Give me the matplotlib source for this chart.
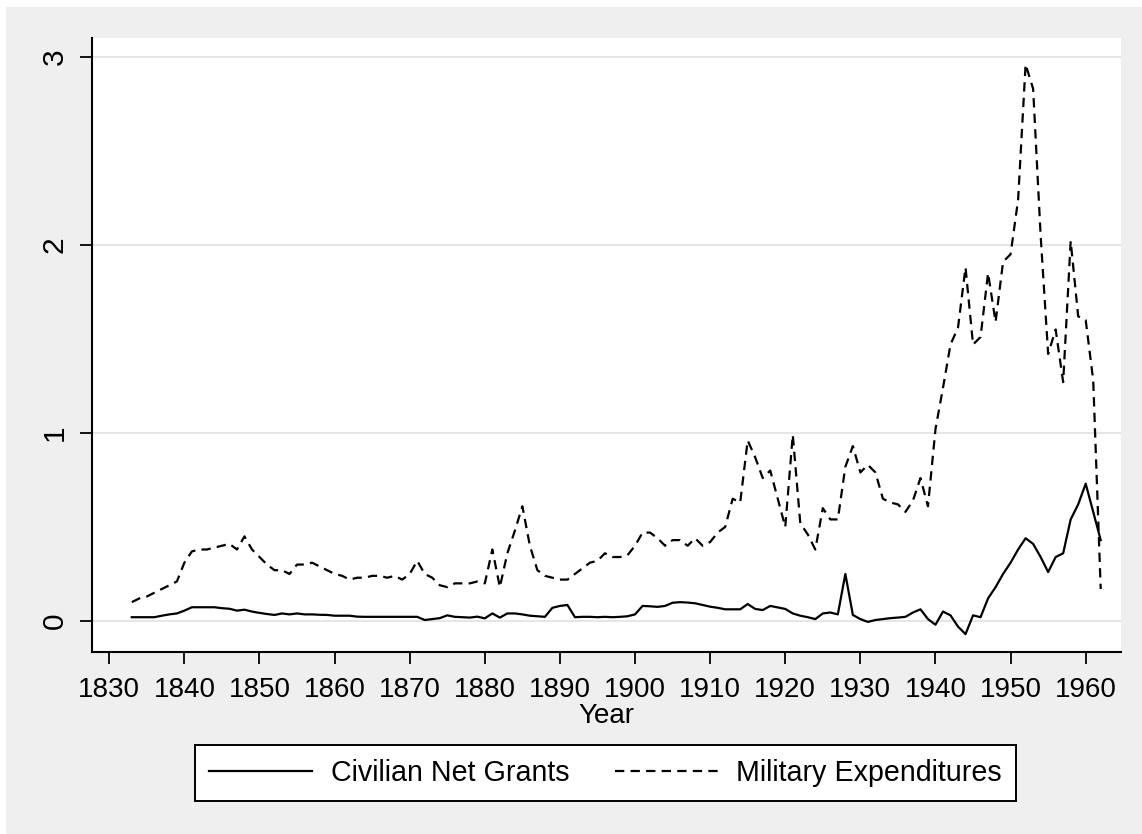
import numpy as np
import matplotlib
matplotlib.use("Agg")
import matplotlib.pyplot as plt
from matplotlib.patches import Rectangle

plt.rcParams['font.family'] = ['Liberation Sans', 'DejaVu Sans']

years = np.arange(1833, 1963)

# military expenditures (dashed), one value a year 1833-1962
military = [
    0.10, 0.12, 0.13, 0.15, 0.17, 0.19, 0.21,                    # 1833-1839
    0.31, 0.37, 0.38, 0.38, 0.39, 0.40, 0.41, 0.38, 0.45, 0.38,  # 1840s
    0.34, 0.30, 0.27, 0.27, 0.25, 0.30, 0.30, 0.31, 0.29, 0.27,  # 1850s
    0.25, 0.24, 0.22, 0.23, 0.23, 0.24, 0.24, 0.23, 0.24, 0.22,  # 1860s
    0.25, 0.32, 0.25, 0.23, 0.19, 0.18, 0.20, 0.20, 0.20, 0.21,  # 1870s
    0.20, 0.38, 0.18, 0.36, 0.48, 0.61, 0.40, 0.27, 0.24, 0.23,  # 1880s
    0.22, 0.22, 0.25, 0.28, 0.31, 0.32, 0.36, 0.34, 0.34, 0.35,  # 1890s
    0.40, 0.47, 0.47, 0.44, 0.40, 0.43, 0.43, 0.40, 0.44, 0.40,  # 1900s
    0.42, 0.47, 0.50, 0.65, 0.63, 0.96, 0.87, 0.76, 0.80, 0.65,  # 1910s
    0.50, 0.99, 0.52, 0.46, 0.38, 0.60, 0.54, 0.54, 0.82, 0.93,  # 1920s
    0.79, 0.83, 0.79, 0.65, 0.63, 0.62, 0.58, 0.64, 0.76, 0.61,  # 1930s
    1.02, 1.24, 1.47, 1.56, 1.88, 1.47, 1.51, 1.85, 1.59, 1.91,  # 1940s
    1.95, 2.24, 2.96, 2.83, 2.05, 1.42, 1.55, 1.27, 2.02, 1.62,  # 1950s
    1.60, 1.28, 0.17,                                            # 1960-1962
]

# civilian net grants (solid)
civilian = [
    0.020, 0.020, 0.020, 0.020, 0.028, 0.035, 0.040,                     # 1833-1839
    0.055, 0.073, 0.073, 0.073, 0.073, 0.068, 0.065, 0.055, 0.060, 0.050,  # 1840s
    0.043, 0.037, 0.032, 0.040, 0.035, 0.040, 0.035, 0.035, 0.033, 0.032,  # 1850s
    0.028, 0.028, 0.028, 0.023, 0.022, 0.022, 0.022, 0.022, 0.022, 0.022,  # 1860s
    0.022, 0.022, 0.005, 0.010, 0.015, 0.030, 0.022, 0.020, 0.018, 0.023,  # 1870s
    0.014, 0.040, 0.018, 0.040, 0.040, 0.035, 0.028, 0.025, 0.022, 0.070,  # 1880s
    0.080, 0.085, 0.020, 0.022, 0.022, 0.020, 0.022, 0.020, 0.022, 0.025,  # 1890s
    0.035, 0.080, 0.078, 0.075, 0.080, 0.097, 0.100, 0.098, 0.094, 0.085,  # 1900s
    0.076, 0.070, 0.062, 0.062, 0.062, 0.090, 0.064, 0.058, 0.080, 0.072,  # 1910s
    0.064, 0.040, 0.028, 0.020, 0.010, 0.040, 0.045, 0.035, 0.250, 0.032,  # 1920s
    0.010, -0.005, 0.005, 0.010, 0.015, 0.018, 0.022, 0.045, 0.062, 0.010,  # 1930s
    -0.020, 0.050, 0.030, -0.030, -0.070, 0.030, 0.020, 0.120, 0.180, 0.250,  # 1940s
    0.310, 0.380, 0.440, 0.410, 0.340, 0.260, 0.340, 0.360, 0.540, 0.620,  # 1950s
    0.730, 0.580, 0.430,                                                   # 1960-1962
]

xticks = np.arange(1830, 1961, 10)
yticks = [0, 1, 2, 3]

fig = plt.figure(figsize=(11.42, 8.34), dpi=100)
fig.patch.set_facecolor("white")
# stata style gray graph region (thin white edge on top and left)
fig.patches.append(Rectangle((6 / 1142, 0), 1, 1 - 7 / 834, transform=fig.transFigure,
                             facecolor="#efefef", edgecolor="none", zorder=-10))

ax = fig.add_axes([92 / 1142, 1 - 652 / 834, (1121 - 92) / 1142, (652 - 38) / 834])
ax.set_facecolor("white")

ax.plot(years, civilian, color="black", lw=1.6, label="Civilian Net Grants")
ax.plot(years, military, color="black", lw=1.6, linestyle=(0, (4.2, 2.8)),
        label="Military Expenditures")

ax.set_xlim(1827.7, 1964.7)
ax.set_ylim(-0.165, 3.10)
ax.set_xticks(xticks)
ax.set_yticks(yticks)
ax.set_yticklabels([str(v) for v in yticks], rotation=90, va="center")
ax.tick_params(axis="both", direction="out", length=8.5, width=1.3, colors="black")
ax.tick_params(axis="x", labelsize=20, pad=9.5)
ax.tick_params(axis="y", labelsize=21.5, pad=8.5)

ax.grid(axis="y", color="#e6e6e6", lw=1.4)
ax.set_axisbelow(True)
for s in ["top", "right"]:
    ax.spines[s].set_visible(False)
for s in ["left", "bottom"]:
    ax.spines[s].set_linewidth(1.5)

ax.set_xlabel("Year", fontsize=20, labelpad=0)

leg = fig.legend(loc="center", bbox_to_anchor=(605.5 / 1142, 1 - 773 / 834), ncol=2,
                 fontsize=20.6, frameon=True, fancybox=False, handlelength=3.6,
                 handletextpad=0.65, columnspacing=1.6, borderpad=0.5)
leg.get_frame().set_edgecolor("black")
leg.get_frame().set_linewidth(1.4)
leg.get_frame().set_facecolor("white")
leg.get_frame().set_alpha(1)

fig.savefig("out.png", dpi=100, facecolor=fig.get_facecolor())
